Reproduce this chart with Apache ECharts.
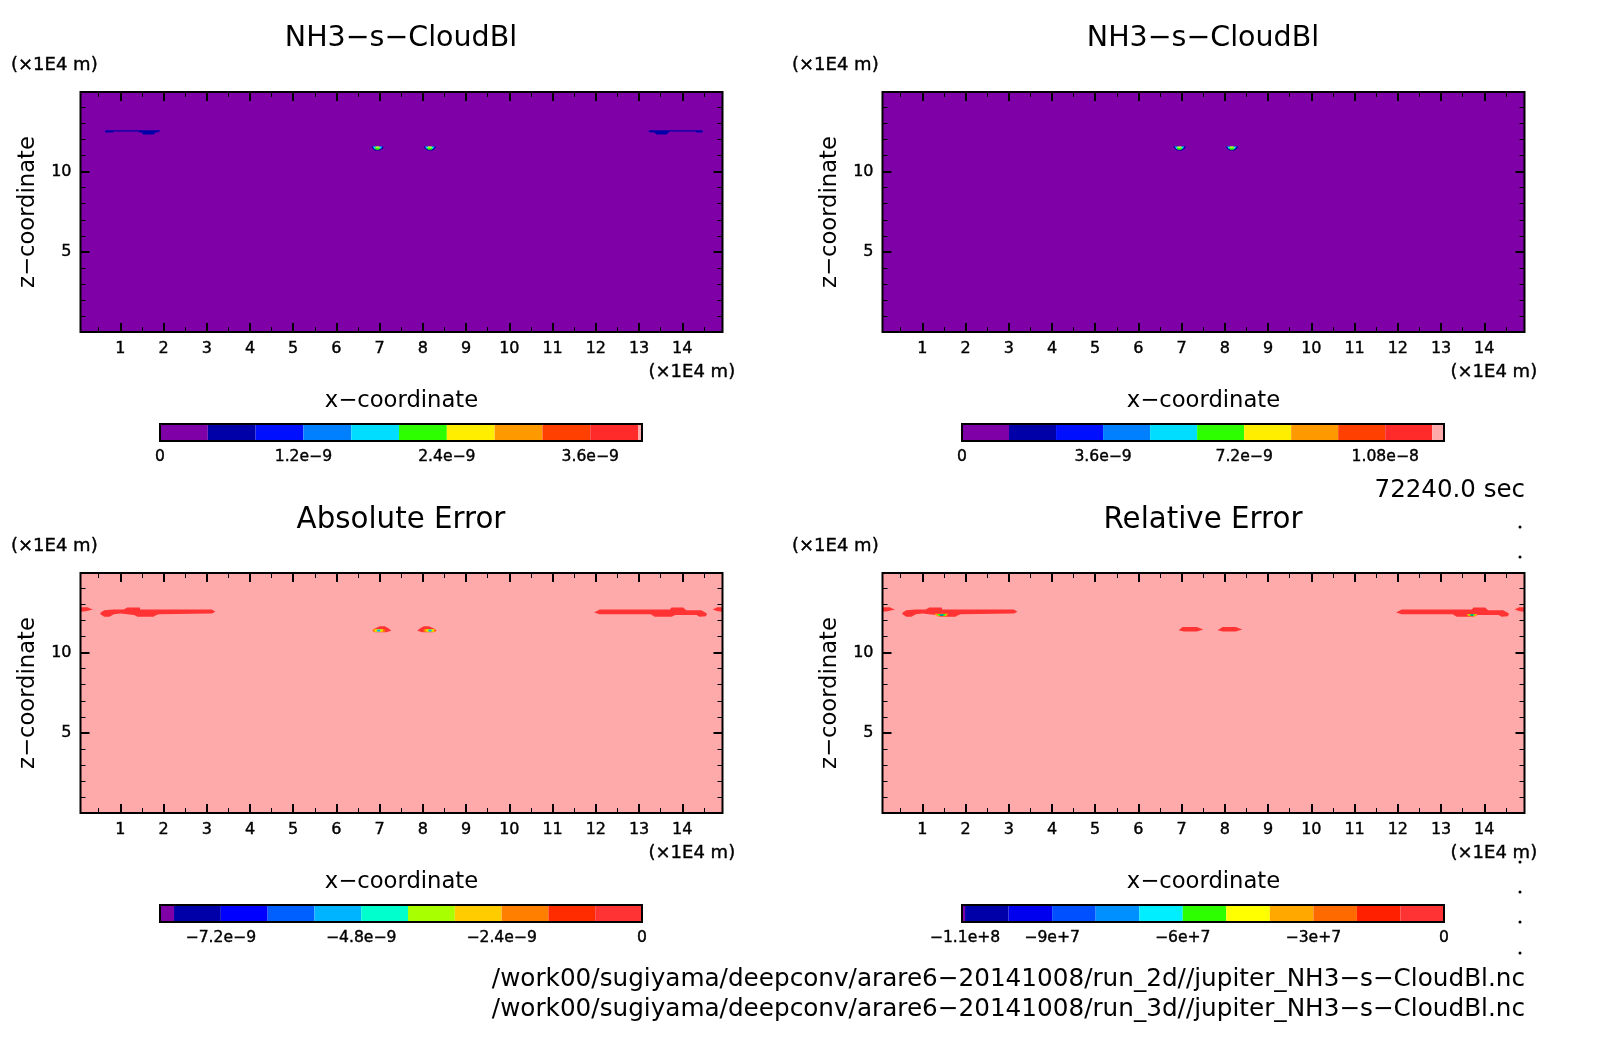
<!DOCTYPE html>
<html>
<head>
<meta charset="utf-8">
<title>NH3-s-CloudBl</title>
<style>
  html, body { margin: 0; padding: 0; background: #fff; }
  #chart { width: 1604px; height: 1054px; }
</style>
<script src="https://cdn.jsdelivr.net/npm/echarts@6/dist/echarts.min.js"></script>
</head>
<body>
<div id="chart"></div>
<script>
/* axis values (x1E4 m) */
const xRange = [0.08, 14.93];
const zRange = [0.04, 14.93];
const xMajor = [1, 2, 3, 4, 5, 6, 7, 8, 9, 10, 11, 12, 13, 14];
const xMinor = [0.5, 1.5, 2.5, 3.5, 4.5, 5.5, 6.5, 7.5, 8.5, 9.5, 10.5, 11.5, 12.5, 13.5, 14.5];
const zMajor = [5, 10];
const zMinor = [1, 2, 3, 4, 6, 7, 8, 9, 11, 12, 13, 14];

/* colorbar levels, colours and tick labels */
const levels1 = [0, 4e-10, 8e-10, 1.2e-9, 1.6e-9, 2e-9, 2.4e-9, 2.8e-9, 3.2e-9, 3.6e-9, 4e-9, 4.033e-9];
const colors1 = ['#8000a8', '#0000a8', '#0010ff', '#0080ff', '#00ddff', '#2eff00', '#ffee00', '#ff9900', '#ff4000', '#ff2a2a', '#ffaaaa'];
const ticks1 = [0, 1.2e-9, 2.4e-9, 3.6e-9];
const labels1 = ['0', '1.2e−9', '2.4e−9', '3.6e−9'];

const levels2 = [0, 1.2e-9, 2.4e-9, 3.6e-9, 4.8e-9, 6e-9, 7.2e-9, 8.4e-9, 9.6e-9, 1.08e-8, 1.2e-8, 1.23e-8];
const colors2 = colors1;
const ticks2 = [0, 3.6e-9, 7.2e-9, 1.08e-8];
const labels2 = ['0', '3.6e−9', '7.2e−9', '1.08e−8'];

const levels3 = [-8.24e-9, -8e-9, -7.2e-9, -6.4e-9, -5.6e-9, -4.8e-9, -4e-9, -3.2e-9, -2.4e-9, -1.6e-9, -8e-10, 0];
const colors3 = ['#8000a8', '#0000a8', '#0000ff', '#0060ff', '#00b4ff', '#00ffcc', '#a8ff00', '#ffcc00', '#ff8000', '#ff2c00', '#ff3333'];
const ticks3 = [-7.2e-9, -4.8e-9, -2.4e-9, 0];
const labels3 = ['−7.2e−9', '−4.8e−9', '−2.4e−9', '0'];

const levels4 = [-1.107e8, -1.1e8, -1e8, -9e7, -8e7, -7e7, -6e7, -5e7, -4e7, -3e7, -2e7, -1e7, 0];
const colors4 = ['#8000a8', '#0000a8', '#0000ee', '#0050ff', '#0090ff', '#00eeff', '#2eff00', '#ffff00', '#ffa800', '#ff6a00', '#ff2000', '#ff3333'];
const ticks4 = [-1.1e8, -9e7, -6e7, -3e7, 0];
const labels4 = ['−1.1e+8', '−9e+7', '−6e+7', '−3e+7', '0'];

const backColor = '#ffaaaa'; // values above 0 in the error panels

/* contour outlines, [x, z] */
const domain = [[0.08, 0.04], [14.93, 0.04], [14.93, 14.93], [0.08, 14.93]];

const wingL = [[0.65, 12.55], [1.92, 12.55], [1.92, 12.48], [1.88, 12.48], [1.88, 12.42], [1.81, 12.42], [1.78, 12.3], [1.53, 12.3], [1.5, 12.42], [1.43, 12.42], [1.43, 12.48], [0.84, 12.48], [0.84, 12.42], [0.65, 12.42]];
const wingR = [[13.22, 12.55], [14.47, 12.55], [14.47, 12.42], [14.32, 12.42], [14.32, 12.48], [13.72, 12.48], [13.68, 12.42], [13.64, 12.3], [13.41, 12.3], [13.35, 12.42], [13.25, 12.44], [13.22, 12.48]];

const capL = [
  [[6.8, 11.55], [7.1, 11.55], [7.07, 11.42], [7.01, 11.3], [6.89, 11.3], [6.84, 11.42]],
  [[6.84, 11.55], [7.06, 11.55], [7.02, 11.4], [6.88, 11.4]],
  [[6.88, 11.47], [7.02, 11.47], [6.99, 11.34], [6.91, 11.34]],
  [[6.9, 11.55], [7.0, 11.55], [6.99, 11.47], [6.91, 11.47]],
];
const capR = [
  [[8.01, 11.55], [8.31, 11.55], [8.28, 11.42], [8.22, 11.3], [8.1, 11.3], [8.05, 11.42]],
  [[8.05, 11.55], [8.27, 11.55], [8.23, 11.4], [8.09, 11.4]],
  [[8.09, 11.47], [8.23, 11.47], [8.2, 11.34], [8.12, 11.34]],
  [[8.11, 11.55], [8.21, 11.55], [8.2, 11.47], [8.12, 11.47]],
];

const edgeL = [[0.08, 12.8], [0.25, 12.8], [0.3, 12.72], [0.37, 12.68], [0.3, 12.62], [0.2, 12.55], [0.08, 12.52]];
const edgeR = [[14.93, 12.8], [14.8, 12.8], [14.75, 12.72], [14.7, 12.68], [14.75, 12.62], [14.82, 12.55], [14.93, 12.52]];
const bandL = [[0.54, 12.46], [0.63, 12.62], [0.85, 12.67], [1.08, 12.67], [1.16, 12.79], [1.45, 12.79], [1.46, 12.67], [3.12, 12.67], [3.2, 12.52], [3.12, 12.42], [1.89, 12.37], [1.81, 12.29], [1.77, 12.21], [1.4, 12.21], [1.32, 12.33], [1.0, 12.42], [0.85, 12.37], [0.75, 12.21], [0.63, 12.21], [0.54, 12.37]];
const bandR = [[11.96, 12.48], [12.09, 12.67], [13.71, 12.67], [13.75, 12.79], [14.02, 12.79], [14.09, 12.62], [14.44, 12.62], [14.57, 12.42], [14.55, 12.25], [14.4, 12.21], [14.33, 12.33], [13.84, 12.33], [13.75, 12.21], [13.36, 12.21], [13.27, 12.37], [12.09, 12.37]];

const domeL = [[6.83, 11.34], [6.9, 11.5], [7.0, 11.62], [7.12, 11.62], [7.2, 11.5], [7.27, 11.34], [7.15, 11.26], [6.9, 11.26]];
const domeR = [[7.87, 11.34], [7.94, 11.5], [8.02, 11.62], [8.14, 11.62], [8.24, 11.5], [8.32, 11.34], [8.24, 11.26], [7.99, 11.26]];
const domeCoreL = [
  [[6.85, 11.46], [7.11, 11.46], [7.13, 11.28], [6.85, 11.28]],
  [[6.88, 11.44], [7.07, 11.44], [7.08, 11.28], [6.88, 11.28]],
  [[6.91, 11.42], [7.04, 11.42], [7.04, 11.3], [6.91, 11.3]],
  [[6.94, 11.42], [7.01, 11.42], [7.01, 11.3], [6.94, 11.3]],
];
const domeCoreR = [
  [[8.03, 11.46], [8.29, 11.46], [8.29, 11.28], [8.01, 11.28]],
  [[8.07, 11.44], [8.26, 11.44], [8.26, 11.28], [8.06, 11.28]],
  [[8.1, 11.42], [8.23, 11.42], [8.23, 11.3], [8.1, 11.3]],
  [[8.13, 11.42], [8.2, 11.42], [8.2, 11.3], [8.13, 11.3]],
];
const lobeL = [[6.93, 11.38], [7.02, 11.58], [7.35, 11.58], [7.5, 11.42], [7.35, 11.3], [7.05, 11.3]];
const lobeR = [[7.83, 11.38], [7.95, 11.58], [8.25, 11.58], [8.4, 11.42], [8.25, 11.3], [7.95, 11.3]];
const spotL = [
  [[1.28, 12.4], [1.6, 12.4], [1.56, 12.24], [1.34, 12.24]],
  [[1.35, 12.38], [1.55, 12.38], [1.52, 12.26], [1.39, 12.26]],
  [[1.4, 12.36], [1.5, 12.36], [1.48, 12.28], [1.42, 12.28]],
];
const spotR = [
  [[13.59, 12.39], [13.84, 12.39], [13.8, 12.24], [13.63, 12.24]],
  [[13.64, 12.37], [13.79, 12.37], [13.76, 12.26], [13.67, 12.26]],
  [[13.68, 12.35], [13.75, 12.35], [13.73, 12.28], [13.7, 12.28]],
];

/* [value, outline] in paint order */
const contours1 = [
  [1e-10, domain],
  [6e-10, wingL], [6e-10, wingR],
  [6e-10, capL[0]], [1.8e-9, capL[1]], [2.2e-9, capL[2]], [2.6e-9, capL[3]],
  [6e-10, capR[0]], [1.8e-9, capR[1]], [2.2e-9, capR[2]], [2.6e-9, capR[3]],
];
const contours2 = [
  [5e-10, domain],
  [2e-9, capL[0]], [5.4e-9, capL[1]], [6.6e-9, capL[2]], [7.8e-9, capL[3]],
  [2e-9, capR[0]], [5.4e-9, capR[1]], [6.6e-9, capR[2]], [7.8e-9, capR[3]],
];
const contours3 = [
  [1e-10, domain],
  [-4e-10, edgeL], [-4e-10, edgeR], [-4e-10, bandL], [-4e-10, bandR],
  [-4e-10, domeL], [-2e-9, domeCoreL[0]], [-2.8e-9, domeCoreL[1]], [-3.6e-9, domeCoreL[2]], [-5.2e-9, domeCoreL[3]],
  [-4e-10, domeR], [-2e-9, domeCoreR[0]], [-2.8e-9, domeCoreR[1]], [-3.6e-9, domeCoreR[2]], [-5.2e-9, domeCoreR[3]],
];
const contours4 = [
  [1e6, domain],
  [-5e6, edgeL], [-5e6, edgeR], [-5e6, bandL], [-5e6, bandR],
  [-5e6, lobeL], [-5e6, lobeR],
  [-3.5e7, spotL[0]], [-5.5e7, spotL[1]], [-8.5e7, spotL[2]],
  [-3.5e7, spotR[0]], [-5.5e7, spotR[1]], [-8.5e7, spotR[2]],
];

const titles = ['NH3−s−CloudBl', 'NH3−s−CloudBl', 'Absolute Error', 'Relative Error'];
const timeLabel = '72240.0 sec';
const fileLabels = [
  '/work00/sugiyama/deepconv/arare6−20141008/run_2d//jupiter_NH3−s−CloudBl.nc',
  '/work00/sugiyama/deepconv/arare6−20141008/run_3d//jupiter_NH3−s−CloudBl.nc',
];

/* layout */
const FONT = '"DejaVu Sans"';
const panelLeft = [80.5, 882.5, 80.5, 882.5];
const panelTop = [92, 92, 573, 573];
const panelW = 642, panelH = 240;
const barLeft = [160, 962, 160, 962];
const barTop = [424, 424, 905, 905];
const barW = 482, barH = 17;
const unitLeft = [11, 792, 11, 792];
const dots = [[1520, 527], [1520, 557], [1520, 862], [1520, 892], [1520, 922], [1520, 953]];

const colorOf = (v, levels, colors) => {
  if (v > levels[levels.length - 1]) return backColor;
  for (let i = 0; i < colors.length; i++) {
    if (v <= levels[i + 1]) return colors[i];
  }
  return colors[colors.length - 1];
};

const grids = [], xAxes = [], yAxes = [], series = [], graphics = [];

/* tick-only axis; the frame comes from the grid border */
const tickAxis = (extra, values, len, width, withLabel) => Object.assign({
  type: 'value', z: 6,
  axisLine: { show: false },
  splitLine: { show: false },
  axisTick: { show: true, inside: true, length: len, customValues: values, lineStyle: { color: '#000', width: width } },
  axisLabel: withLabel
    ? { show: true, customValues: values, color: '#000', fontFamily: FONT, fontSize: 16, margin: 9, textBorderColor: '#000', textBorderWidth: 0.4 }
    : { show: false },
}, extra);

const addPlot = (i, contours, levels, colors) => {
  grids.push({
    left: panelLeft[i], top: panelTop[i], width: panelW, height: panelH,
    show: true, z: 5, borderColor: '#000', borderWidth: 2, backgroundColor: 'transparent',
  });
  const xBase = { gridIndex: grids.length - 1, min: xRange[0], max: xRange[1] };
  const yBase = { gridIndex: grids.length - 1, min: zRange[0], max: zRange[1] };
  const xIndex = xAxes.length, yIndex = yAxes.length;

  xAxes.push(
    tickAxis(Object.assign({}, xBase, {
      position: 'bottom', name: 'x−coordinate', nameLocation: 'middle', nameGap: 58,
      nameTextStyle: { color: '#000', fontFamily: FONT, fontSize: 22.7 },
    }), xMajor, 9, 2, true),
    tickAxis(Object.assign({}, xBase, { position: 'bottom' }), xMinor, 5, 1, false),
    tickAxis(Object.assign({}, xBase, { position: 'top' }), xMajor, 9, 2, false),
    tickAxis(Object.assign({}, xBase, { position: 'top' }), xMinor, 5, 1, false)
  );
  yAxes.push(
    tickAxis(Object.assign({}, yBase, {
      position: 'left', name: 'z−coordinate', nameLocation: 'middle', nameGap: 41,
      nameTextStyle: { color: '#000', fontFamily: FONT, fontSize: 22.7 },
    }), zMajor, 9, 2, true),
    tickAxis(Object.assign({}, yBase, { position: 'left' }), zMinor, 5, 1, false),
    tickAxis(Object.assign({}, yBase, { position: 'right' }), zMajor, 9, 2, false),
    tickAxis(Object.assign({}, yBase, { position: 'right' }), zMinor, 5, 1, false)
  );

  series.push({
    type: 'custom', z: 1, clip: true, silent: true,
    xAxisIndex: xIndex, yAxisIndex: yIndex,
    data: contours.map(c => [c[1][0][0], c[1][0][1], c[0]]),
    renderItem: (params, api) => {
      const c = contours[params.dataIndex];
      return {
        type: 'polygon',
        shape: { points: c[1].map(p => api.coord(p)) },
        style: { fill: colorOf(c[0], levels, colors) },
      };
    },
  });
};

const addBar = (i, levels, colors, ticks, labels) => {
  grids.push({
    left: barLeft[i], top: barTop[i], width: barW, height: barH,
    show: true, z: 5, borderColor: '#000', borderWidth: 2, backgroundColor: 'transparent',
  });
  const gridIndex = grids.length - 1;
  xAxes.push({
    type: 'value', gridIndex: gridIndex, min: levels[0], max: levels[levels.length - 1],
    axisLine: { show: false }, axisTick: { show: false }, splitLine: { show: false },
    axisLabel: {
      customValues: ticks, color: '#000', fontFamily: FONT, fontSize: 15.6, margin: 8,
      textBorderColor: '#000', textBorderWidth: 0.4,
      formatter: v => labels[ticks.findIndex(t => Math.abs(t - v) < 1e-3 * Math.abs(levels[1] - levels[0]))],
    },
  });
  yAxes.push({ type: 'value', gridIndex: gridIndex, min: 0, max: 1, show: false });

  series.push({
    type: 'custom', z: 1, clip: true, silent: true,
    xAxisIndex: xAxes.length - 1, yAxisIndex: yAxes.length - 1,
    data: colors.map((c, k) => [levels[k], levels[k + 1]]),
    renderItem: (params, api) => {
      const a = api.coord([api.value(0), 0]);
      const b = api.coord([api.value(1), 1]);
      return {
        type: 'rect',
        shape: { x: a[0], y: b[1], width: b[0] - a[0], height: a[1] - b[1] },
        style: { fill: colors[params.dataIndex] },
      };
    },
  });
};

const addText = (text, x, y, size, align, weight) => {
  graphics.push({
    type: 'text', x: x, y: y, silent: true,
    style: {
      text: text, fill: '#000', font: size + 'px ' + FONT, textAlign: align || 'left', textVerticalAlign: 'middle',
      stroke: weight ? '#000' : null, lineWidth: weight || 0,
    },
  });
};

addPlot(0, contours1, levels1, colors1);
addPlot(1, contours2, levels2, colors2);
addPlot(2, contours3, levels3, colors3);
addPlot(3, contours4, levels4, colors4);
addBar(0, levels1, colors1, ticks1, labels1);
addBar(1, levels2, colors2, ticks2, labels2);
addBar(2, levels3, colors3, ticks3, labels3);
addBar(3, levels4, colors4, ticks4, labels4);

titles.forEach((t, i) => {
  addText(t, panelLeft[i] + panelW / 2 - 0.5, panelTop[i] - 53, i < 2 ? 28.5 : 29.3, 'center');
  addText('(×1E4 m)', unitLeft[i], panelTop[i] - 27, 18, 'left', 0.4);
  addText('(×1E4 m)', panelLeft[i] + 568, panelTop[i] + 280, 18, 'left', 0.4);
});
addText(timeLabel, 1525, 491, 24.5, 'right');
addText(fileLabels[0], 1525, 980, 24.7, 'right');
addText(fileLabels[1], 1525, 1010, 24.7, 'right');
dots.forEach(d => {
  graphics.push({ type: 'circle', silent: true, shape: { cx: d[0], cy: d[1], r: 1.5 }, style: { fill: '#000' } });
});

const chart = echarts.init(document.getElementById('chart'), null, { renderer: 'canvas' });
chart.setOption({
  animation: false,
  backgroundColor: '#fff',
  tooltip: { show: false },
  grid: grids,
  xAxis: xAxes,
  yAxis: yAxes,
  series: series,
  graphic: graphics,
});
</script>
</body>
</html>
